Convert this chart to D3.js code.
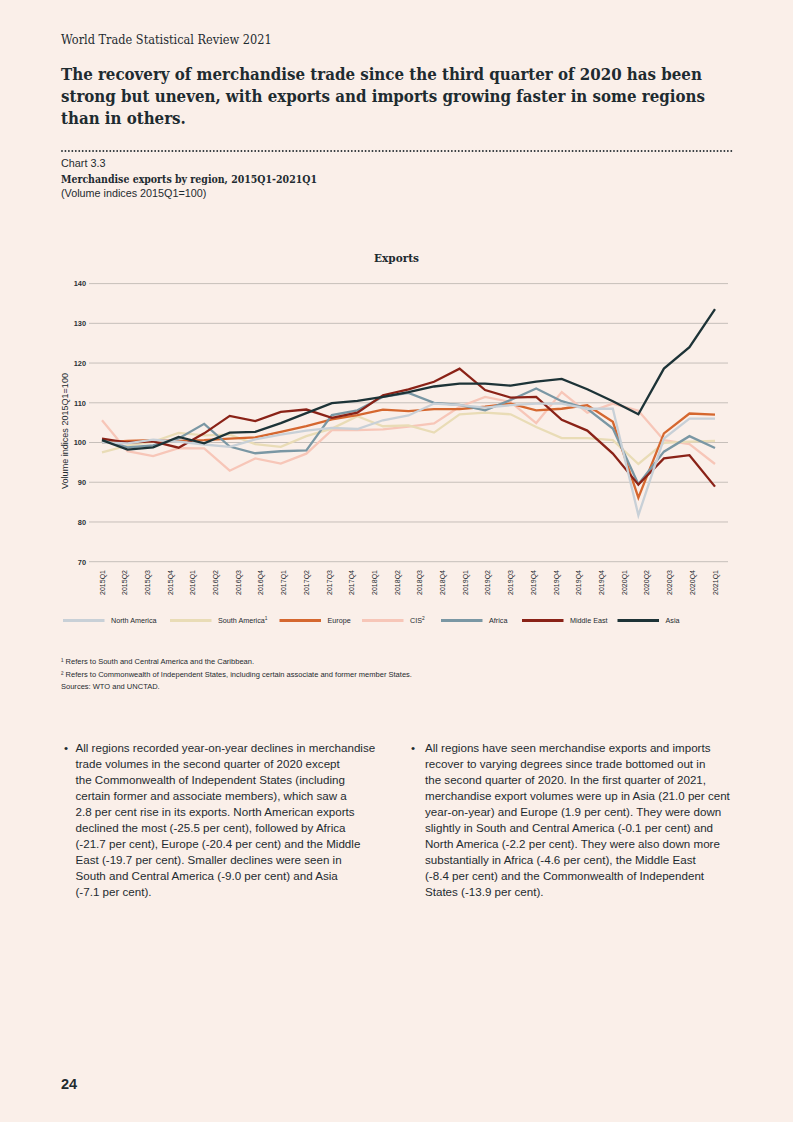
<!DOCTYPE html>
<html>
<head>
<meta charset="utf-8">
<script src="https://cdn.jsdelivr.net/npm/d3@7/dist/d3.min.js"></script>
<style>
  html, body { margin: 0; padding: 0; background: #faefe9; }
  svg { display: block; }
</style>
</head>
<body>
<svg id="page" width="793" height="1122"></svg>
<script>
// ---------------- DATA ----------------
const quarters = ["2015Q1","2015Q2","2015Q3","2015Q4","2016Q1","2016Q2","2016Q3","2016Q4",
  "2017Q1","2017Q2","2017Q3","2017Q4","2018Q1","2018Q2","2018Q3","2018Q4",
  "2019Q1","2019Q2","2019Q3","2019Q4","2020Q1","2020Q2","2020Q3","2020Q4","2021Q1"];

// tick labels exactly as printed under the axis (the original repeats 2019Q4)
const tickLabels = ["2015Q1","2015Q2","2015Q3","2015Q4","2016Q1","2016Q2","2016Q3","2016Q4",
  "2017Q1","2017Q2","2017Q3","2017Q4","2018Q1","2018Q2","2018Q3","2018Q4",
  "2019Q1","2019Q2","2019Q3","2019Q4","2019Q4","2019Q4","2019Q4",
  "2020Q1","2020Q2","2020Q3","2020Q4","2021Q1"];

const yTicks = [70, 80, 90, 100, 110, 120, 130, 140];

const seriesNames = ["North America","South America","Europe","CIS","Africa","Middle East","Asia"];
const legendSup = ["", "1", "", "2", "", "", ""];

const northAmerica = [100.0, 99.8, 100.7, 100.2, 99.5, 98.9, 100.8, 102.0, 103.0, 103.7, 103.4, 105.6,
  106.8, 109.8, 109.4, 108.8, 109.4, 109.8, 109.8, 108.5, 108.5, 81.7, 101.0, 106.0, 106.0];
const southAmerica = [97.5, 99.2, 100.2, 102.4, 101.8, 102.0, 99.6, 98.9, 101.6, 103.5, 106.6, 104.1,
  104.3, 102.5, 107.1, 107.5, 107.1, 103.9, 101.1, 101.1, 100.6, 94.6, 99.9, 100.2, 100.4];
const europe = [100.0, 100.4, 100.6, 100.4, 100.6, 101.0, 101.3, 102.7, 104.1, 105.8, 106.9, 108.3,
  107.9, 108.4, 108.4, 109.0, 109.8, 108.1, 108.5, 109.4, 105.2, 86.1, 102.3, 107.3, 107.0];
const cis = [105.6, 97.8, 96.6, 98.6, 98.5, 92.9, 96.0, 94.7, 97.2, 103.1, 103.1, 103.3,
  104.0, 104.8, 109.0, 111.5, 110.2, 104.9, 112.7, 107.5, 109.8, 108.0, 100.6, 99.6, 94.6];
const africa = [100.6, 98.8, 99.3, 101.0, 104.7, 99.0, 97.3, 97.8, 98.0, 106.9, 108.1, 111.5,
  112.5, 110.0, 109.5, 108.1, 110.7, 113.6, 110.4, 108.5, 103.5, 89.5, 97.7, 101.6, 98.6];
const middleEast = [101.0, 100.0, 100.3, 98.7, 102.3, 106.7, 105.4, 107.7, 108.3, 106.2, 107.5, 111.9,
  113.4, 115.3, 118.6, 113.2, 111.3, 111.5, 105.7, 103.0, 97.2, 89.4, 96.0, 96.8, 88.9];
const asia = [100.6, 98.2, 98.8, 101.4, 99.8, 102.5, 102.7, 104.9, 107.4, 109.9, 110.5, 111.5,
  112.7, 114.1, 114.8, 114.8, 114.3, 115.3, 116.0, 113.4, 110.4, 107.1, 118.6, 124.0, 133.6];

const seriesValues = [northAmerica, southAmerica, europe, cis, africa, middleEast, asia];
const seriesColors = ["#c8d0d7", "#e9dcb6", "#d5672f", "#f7c6b8", "#7a97a4", "#8a2217", "#1d3337"];
// drawing order (index into series), Asia last = on top
const drawOrder = [3, 1, 2, 4, 5, 0, 6];
// legend layout (swatch start x)
const legendX = [63, 170, 279.5, 362, 441, 522, 617.5];

const bodyLeft = [
  "All regions recorded year-on-year declines in merchandise",
  "trade volumes in the second quarter of 2020 except",
  "the Commonwealth of Independent States (including",
  "certain former and associate members), which saw a",
  "2.8 per cent rise in its exports. North American exports",
  "declined the most (-25.5 per cent), followed by Africa",
  "(-21.7 per cent), Europe (-20.4 per cent) and the Middle",
  "East (-19.7 per cent). Smaller declines were seen in",
  "South and Central America (-9.0 per cent) and Asia",
  "(-7.1 per cent)."
];
const bodyRight = [
  "All regions have seen merchandise exports and imports",
  "recover to varying degrees since trade bottomed out in",
  "the second quarter of 2020. In the first quarter of 2021,",
  "merchandise export volumes were up in Asia (21.0 per cent",
  "year-on-year) and Europe (1.9 per cent). They were down",
  "slightly in South and Central America (-0.1 per cent) and",
  "North America (-2.2 per cent). They were also down more",
  "substantially in Africa (-4.6 per cent), the Middle East",
  "(-8.4 per cent) and the Commonwealth of Independent",
  "States (-13.9 per cent)."
];

// ---------------- DRAW ----------------
const svg = d3.select("#page");
const ink = "#1e2b30";
const SERIF = "'DejaVu Serif Condensed', 'DejaVu Serif', serif";
const SANS = "'Liberation Sans', Arial, sans-serif";

svg.append("rect").attr("width", 793).attr("height", 1122).attr("fill", "#faefe9");

function fit(sel, target) {
  const w = sel.node().getComputedTextLength();
  const fs = parseFloat(sel.attr("font-size"));
  const nfs = fs * target / w;
  sel.attr("font-size", nfs);
  return nfs;
}

// header
fit(svg.append("text").attr("x", 61).attr("y", 44).attr("font-family", SERIF)
  .attr("font-size", 11).attr("fill", ink).text("World Trade Statistical Review 2021"), 211);

// title
const titleLines = ["The recovery of merchandise trade since the third quarter of 2020 has been",
  "strong but uneven, with exports and imports growing faster in some regions",
  "than in others."];
const t0 = svg.append("text").attr("x", 61).attr("y", 80).attr("font-family", SERIF)
  .attr("font-weight", "bold").attr("font-size", 18).attr("fill", ink).text(titleLines[0]);
const tfs = fit(t0, 641);
titleLines.slice(1).forEach((l, i) => {
  svg.append("text").attr("x", 61).attr("y", 102 + i * 22).attr("font-family", SERIF)
    .attr("font-weight", "bold").attr("font-size", tfs).attr("fill", ink).text(l);
});

// dotted rule
svg.append("line").attr("x1", 62).attr("x2", 733).attr("y1", 151).attr("y2", 151)
  .attr("stroke", "#2a3236").attr("stroke-width", 1.9).attr("stroke-linecap", "round")
  .attr("stroke-dasharray", "0 3.45");

// chart captions
fit(svg.append("text").attr("x", 61).attr("y", 167).attr("font-family", SANS)
  .attr("font-size", 10).attr("fill", ink).text("Chart 3.3"), 44.5);
fit(svg.append("text").attr("x", 61).attr("y", 183).attr("font-family", SERIF)
  .attr("font-weight", "bold").attr("font-size", 10).attr("fill", ink)
  .text("Merchandise exports by region, 2015Q1-2021Q1"), 256.5);
fit(svg.append("text").attr("x", 61).attr("y", 197).attr("font-family", SANS)
  .attr("font-size", 10).attr("fill", ink).text("(Volume indices 2015Q1=100)"), 145.5);

// chart title
fit(svg.append("text").attr("x", 396.5).attr("y", 262).attr("text-anchor", "middle")
  .attr("font-family", SERIF).attr("font-weight", "bold").attr("font-size", 12)
  .attr("fill", ink).text("Exports"), 45);

// scales
const x = d3.scalePoint().domain(quarters).range([102, 715]);
const xLab = d3.scalePoint().domain(d3.range(tickLabels.length)).range([102, 715]);
const y = d3.scaleLinear().domain([70, 140]).range([561.7, 283.6]);

// grid + y labels
const grid = svg.append("g");
grid.selectAll("line").data(yTicks).join("line")
  .attr("x1", 89).attr("x2", 728)
  .attr("y1", d => y(d)).attr("y2", d => y(d))
  .attr("stroke", "#c6bfba").attr("stroke-width", 1);

const yAxis = d3.axisLeft(y).tickValues(yTicks).tickSize(0).tickPadding(0);
const yg = svg.append("g").attr("transform", "translate(86,0)").call(yAxis);
yg.select(".domain").remove();
yg.selectAll("text").attr("font-family", SANS).attr("font-size", 7.4)
  .attr("font-weight", "bold").attr("fill", "#2a3236");

fit(svg.append("text").attr("transform", "translate(67.5,431) rotate(-90)")
  .attr("text-anchor", "middle").attr("font-family", SANS).attr("font-size", 7)
  .attr("fill", "#1e2b30").text("Volume indices 2015Q1=100"), 116);

// x labels
const xg = svg.append("g");
xg.selectAll("text").data(tickLabels).join("text")
  .attr("transform", (d, i) => `translate(${xLab(i) + 2.5},570) rotate(-90)`)
  .attr("text-anchor", "end")
  .attr("font-family", SANS).attr("font-size", 7).attr("fill", "#1e2b30")
  .text(d => d);

// lines
const lineGen = d3.line().x((d, i) => x(quarters[i])).y(d => y(d));
svg.append("g").selectAll("path").data(drawOrder).join("path")
  .attr("d", k => lineGen(seriesValues[k]))
  .attr("fill", "none")
  .attr("stroke", k => seriesColors[k])
  .attr("stroke-width", 2.3)
  .attr("stroke-linejoin", "miter");

// legend
const lg = svg.append("g");
seriesNames.forEach((n, i) => {
  lg.append("line").attr("x1", legendX[i]).attr("x2", legendX[i] + 41.5)
    .attr("y1", 620.5).attr("y2", 620.5)
    .attr("stroke", seriesColors[i]).attr("stroke-width", 3);
  const tx = lg.append("text").attr("x", legendX[i] + 48).attr("y", 623)
    .attr("font-family", SANS).attr("font-size", 7.2).attr("fill", "#1e2b30")
    .text(n);
  if (legendSup[i]) {
    tx.append("tspan").attr("dy", -2.6).attr("font-size", 4.8).text(legendSup[i]);
  }
});

// footnotes
const notes = ["\u00b9 Refers to South and Central America and the Caribbean.",
  "\u00b2 Refers to Commonwealth of Independent States, including certain associate and former member States.",
  "Sources: WTO and UNCTAD."];
const n0 = svg.append("text").attr("x", 61).attr("y", 664).attr("font-family", SANS)
  .attr("font-size", 7).attr("fill", "#1e2b30").text(notes[0]);
const nfs = fit(n0, 193.5);
notes.slice(1).forEach((t, i) => {
  svg.append("text").attr("x", 61).attr("y", 676.5 + i * 12.5).attr("font-family", SANS)
    .attr("font-size", nfs).attr("fill", "#1e2b30").text(t);
});

// body text
const b0 = svg.append("text").attr("x", 75.5).attr("y", 751.5).attr("font-family", SANS)
  .attr("font-size", 11.5).attr("fill", ink).text(bodyLeft[0]);
const bfs = fit(b0, 300);
bodyLeft.slice(1).forEach((t, i) => {
  svg.append("text").attr("x", 75.5).attr("y", 751.5 + (i + 1) * 16).attr("font-family", SANS)
    .attr("font-size", bfs).attr("fill", ink).text(t);
});
bodyRight.forEach((t, i) => {
  svg.append("text").attr("x", 425).attr("y", 751.5 + i * 16).attr("font-family", SANS)
    .attr("font-size", bfs).attr("fill", ink).text(t);
});
[64, 411].forEach(bx => {
  svg.append("text").attr("x", bx).attr("y", 751.5).attr("font-family", SANS)
    .attr("font-size", bfs).attr("fill", ink).text("\u2022");
});

// page number
svg.append("text").attr("x", 61).attr("y", 1088.5).attr("font-family", SANS)
  .attr("font-weight", "bold").attr("font-size", 14.5).attr("fill", ink).text("24");
</script>
</body>
</html>
